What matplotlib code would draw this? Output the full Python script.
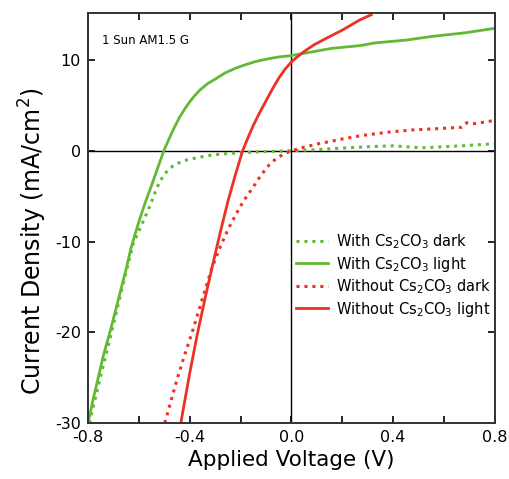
import matplotlib
matplotlib.use("Agg")
import matplotlib.pyplot as plt

plt.rcParams['font.family'] = ['DejaVu Sans']
plt.rcParams['axes.unicode_minus'] = False

# with Cs2CO3, light
wl_v = [-0.80, -0.78, -0.76, -0.74, -0.714, -0.69, -0.67, -0.65, -0.63, -0.60, -0.575,
        -0.55, -0.525, -0.502, -0.48, -0.46, -0.44, -0.42, -0.40, -0.38, -0.36, -0.33,
        -0.30, -0.26, -0.22, -0.18, -0.14, -0.10, -0.05, 0.0, 0.08, 0.16, 0.27, 0.33,
        0.45, 0.55, 0.68, 0.80]
wl_j = [-30.0, -27.4, -25.0, -22.6, -20.0, -17.4, -15.2, -13.0, -10.6, -7.8, -5.7,
        -3.8, -1.8, 0.0, 1.4, 2.6, 3.7, 4.6, 5.4, 6.1, 6.7, 7.4,
        7.9, 8.6, 9.1, 9.5, 9.85, 10.1, 10.35, 10.5, 10.9, 11.3, 11.6, 11.9,
        12.2, 12.6, 13.0, 13.5]

# with Cs2CO3, dark
wd_v = [-0.795, -0.75, -0.71, -0.67, -0.623, -0.59, -0.557, -0.535, -0.518, -0.50, -0.478,
        -0.45, -0.41, -0.36, -0.31, -0.25, -0.20, -0.10, 0.0, 0.08, 0.20, 0.30,
        0.40, 0.50, 0.53, 0.60, 0.67, 0.78, 0.80]
wd_j = [-30.0, -24.8, -20.3, -15.6, -10.3, -8.2, -6.1, -4.5, -3.4, -2.6, -1.9,
        -1.4, -1.0, -0.7, -0.45, -0.3, -0.2, -0.08, 0.0, 0.1, 0.3, 0.45,
        0.55, 0.35, 0.35, 0.45, 0.55, 0.75, 0.75]

# without Cs2CO3, light
ol_v = [-0.435, -0.40, -0.37, -0.34, -0.31, -0.28, -0.25, -0.22, -0.192, -0.17, -0.15,
        -0.125, -0.10, -0.075, -0.05, -0.025, 0.0, 0.025, 0.05, 0.09, 0.137, 0.20,
        0.267, 0.314]
ol_j = [-30.0, -24.5, -20.2, -16.3, -12.6, -9.0, -5.6, -2.6, 0.0, 1.5, 2.8,
        4.2, 5.5, 6.8, 8.0, 9.0, 9.8, 10.4, 10.95, 11.7, 12.4, 13.3,
        14.4, 15.0]

# without Cs2CO3, dark
od_v = [-0.498, -0.47, -0.45, -0.42, -0.388, -0.35, -0.314, -0.28, -0.25, -0.22, -0.19,
        -0.153, -0.12, -0.086, -0.06, -0.03, 0.0, 0.05, 0.11, 0.20, 0.28, 0.38,
        0.475, 0.58, 0.67, 0.69, 0.72, 0.79, 0.80]
od_j = [-30.0, -27.2, -25.2, -22.5, -19.8, -16.3, -13.0, -10.6, -8.7, -7.1, -5.6,
        -4.1, -2.7, -1.5, -0.85, -0.35, 0.0, 0.4, 0.8, 1.3, 1.7, 2.05,
        2.3, 2.45, 2.6, 3.1, 3.0, 3.3, 3.35]

green = '#62b935'
red = '#ee3124'
dots = (0, (1, 1.6))

fig = plt.figure(figsize=(5.09, 4.79), dpi=100)
ax = fig.add_axes([0.173, 0.117, 0.799, 0.856])

ax.axhline(0, color='black', lw=1.0, zorder=1)
ax.axvline(0, color='black', lw=1.0, zorder=1)

ax.plot(wd_v, wd_j, color=green, lw=2.2, ls=dots, label='With Cs$_2$CO$_3$ dark')
ax.plot(wl_v, wl_j, color=green, lw=2.0, label='With Cs$_2$CO$_3$ light')
ax.plot(od_v, od_j, color=red, lw=2.2, ls=dots, label='Without Cs$_2$CO$_3$ dark')
ax.plot(ol_v, ol_j, color=red, lw=2.0, label='Without Cs$_2$CO$_3$ light')

ax.set_xlim(-0.8, 0.8)
ax.set_ylim(-30, 15.2)
ax.set_xticks([-0.8, -0.4, 0.0, 0.4, 0.8])
ax.set_xticks([-0.6, -0.2, 0.2, 0.6], minor=True)
ax.set_xticklabels(['-0.8', '-0.4', '0.0', '0.4', '0.8'])
ax.set_yticks([-30, -20, -10, 0, 10])
ax.tick_params(which='both', direction='in', top=True, right=True,
               length=5, width=1.2, labelsize=11.5, pad=5)

for s in ax.spines.values():
    s.set_linewidth(1.4)
    s.set_color('#333333')

ax.set_xlabel('Applied Voltage (V)', fontsize=15.5, labelpad=4)
ax.set_ylabel('Current Density (mA/cm$^2$)', fontsize=17)
ax.yaxis.set_label_coords(-0.097, 0.444)

ax.text(0.035, 0.925, '1 Sun AM1.5 G', transform=ax.transAxes, fontsize=8.5)

ax.legend(loc='center right', bbox_to_anchor=(1.025, 0.36), frameon=False,
          fontsize=10.5, handlelength=2.2, handletextpad=0.6, labelspacing=0.25)

fig.savefig('out.png', dpi=100)
